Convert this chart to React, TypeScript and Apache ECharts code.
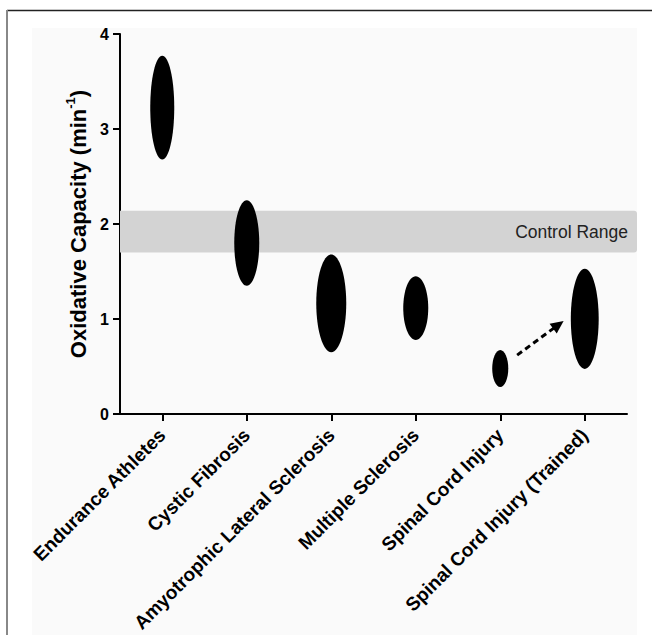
import React, { useEffect, useRef } from "react";
import * as echarts from "echarts";

const categories = [
  "Endurance Athletes",
  "Cystic Fibrosis",
  "Amyotrophic Lateral Sclerosis",
  "Multiple Sclerosis",
  "Spinal Cord Injury",
  "Spinal Cord Injury (Trained)",
];
// range of each group (low, high) in min^-1
const rangeLow = [2.68, 1.35, 0.65, 0.78, 0.285, 0.475];
const rangeHigh = [3.77, 2.25, 1.68, 1.45, 0.675, 1.53];
// ellipse width as a fraction of the category band
const widthFrac = [0.284, 0.296, 0.355, 0.296, 0.19, 0.33];
// control range band
const controlLow = 1.7;
const controlHigh = 2.14;
const controlLabel = "Control Range";
// arrow from SCI to SCI (Trained): [category position, value]
const arrowFrom = [4.2, 0.62];
const arrowTo = [4.75, 0.98];
const yTicks = { min: 0, max: 4, interval: 1 };

const FONT = 'Arial, "Liberation Sans", sans-serif';

export default function App() {
  const ref = useRef<HTMLDivElement>(null);
  useEffect(() => {
    document.body.style.margin = "0";
    const chart = echarts.init(ref.current!, null, { renderer: "svg" });
    const toPx = (api: any, pos: number, val: number) => {
      const i = Math.floor(pos);
      const f = pos - i;
      const p = api.coord([i, val]);
      const bw = api.size([1, 0])[0];
      return [p[0] + f * bw, p[1]];
    };
    const option: any = {
      animation: false,
      backgroundColor: "#ffffff",
      textStyle: { fontFamily: FONT },
      graphic: [
        { type: "rect", z: -10, silent: true, shape: { x: 32, y: 28, width: 605, height: 607 }, style: { fill: "#fafafa" } },
        { type: "line", z: -9, silent: true, shape: { x1: 7, y1: 10.5, x2: 652, y2: 10.5 }, style: { stroke: "#222", lineWidth: 1.5 } },
        { type: "line", z: -9, silent: true, shape: { x1: 7, y1: 10, x2: 7, y2: 635 }, style: { stroke: "#888", lineWidth: 2 } },
      ],
      grid: { left: 120, right: 25, top: 34, bottom: 221, containLabel: false, outerBoundsMode: "none" },
      xAxis: {
        type: "category",
        data: categories,
        boundaryGap: true,
        axisLine: { show: true, lineStyle: { color: "#000", width: 2 } },
        axisTick: { show: true, alignWithLabel: true, length: 7, lineStyle: { color: "#000", width: 2 } },
        axisLabel: { rotate: 45, color: "#000", fontSize: 19, fontWeight: "bold", fontFamily: FONT, margin: 18, interval: 0 },
        splitLine: { show: false },
      },
      yAxis: {
        type: "value",
        min: yTicks.min,
        max: yTicks.max,
        interval: yTicks.interval,
        name: "{a|Oxidative Capacity (min}{s|-1}{a|)}",
        nameLocation: "middle",
        nameGap: 28,
        nameRotate: 90,
        nameTextStyle: {
          rich: {
            a: { fontSize: 22, fontWeight: "bold", color: "#000", fontFamily: FONT, lineHeight: 25, verticalAlign: "bottom" },
            s: { fontSize: 13, fontWeight: "bold", color: "#000", fontFamily: FONT, lineHeight: 25, verticalAlign: "top" },
          },
        },
        axisLine: { show: true, lineStyle: { color: "#000", width: 2 } },
        axisTick: { show: true, length: 7, lineStyle: { color: "#000", width: 2 } },
        axisLabel: { color: "#000", fontSize: 16, fontWeight: "bold", fontFamily: FONT, margin: 11 },
        splitLine: { show: false },
      },
      series: [
        {
          type: "custom",
          name: "control",
          z: 1,
          data: [[0, controlLow, controlHigh]],
          renderItem: (params: any, api: any) => {
            const cs = params.coordSys;
            const top = api.coord([0, api.value(2)])[1];
            const bot = api.coord([0, api.value(1)])[1];
            const right = cs.x + cs.width + 10;
            return {
              type: "group",
              children: [
                {
                  type: "rect",
                  shape: { x: cs.x, y: top, width: right - cs.x, height: bot - top, r: [0, 3, 3, 0] },
                  style: { fill: "#d3d3d3" },
                },
                {
                  type: "text",
                  style: {
                    text: controlLabel,
                    x: cs.x + cs.width + 1,
                    y: (top + bot) / 2,
                    align: "right",
                    verticalAlign: "middle",
                    fill: "#222",
                    fontSize: 17.5,
                    fontFamily: FONT,
                  },
                },
              ],
            };
          },
        },
        {
          type: "custom",
          name: "groups",
          z: 3,
          data: categories.map((_, i) => [i, rangeLow[i], rangeHigh[i], widthFrac[i]]),
          renderItem: (params: any, api: any) => {
            const i = api.value(0);
            const lo = api.coord([i, api.value(1)]);
            const hi = api.coord([i, api.value(2)]);
            const bw = api.size([1, 0])[0];
            return {
              type: "ellipse",
              shape: { cx: lo[0], cy: (lo[1] + hi[1]) / 2, rx: (api.value(3) * bw) / 2, ry: (lo[1] - hi[1]) / 2 },
              style: { fill: "#000" },
            };
          },
        },
        {
          type: "custom",
          name: "arrow",
          z: 4,
          data: [[arrowFrom[0], arrowFrom[1], arrowTo[0], arrowTo[1]]],
          renderItem: (params: any, api: any) => {
            const a = toPx(api, api.value(0), api.value(1));
            const b = toPx(api, api.value(2), api.value(3));
            const dx = b[0] - a[0];
            const dy = b[1] - a[1];
            const len = Math.sqrt(dx * dx + dy * dy);
            const ux = dx / len;
            const uy = dy / len;
            const hl = 13;
            const hw = 6;
            const bx = b[0] - ux * hl;
            const by = b[1] - uy * hl;
            return {
              type: "group",
              children: [
                {
                  type: "line",
                  shape: { x1: a[0], y1: a[1], x2: bx + ux * 2, y2: by + uy * 2 },
                  style: { stroke: "#000", lineWidth: 3, lineDash: [6, 4] },
                },
                {
                  type: "polygon",
                  shape: {
                    points: [
                      [b[0], b[1]],
                      [bx - uy * hw, by + ux * hw],
                      [bx + uy * hw, by - ux * hw],
                    ],
                  },
                  style: { fill: "#000" },
                },
              ],
            };
          },
        },
      ],
    };
    chart.setOption(option);
    return () => chart.dispose();
  }, []);
  return <div ref={ref} style={{ position: "absolute", left: 0, top: 0, width: 652, height: 635 }} />;
}
